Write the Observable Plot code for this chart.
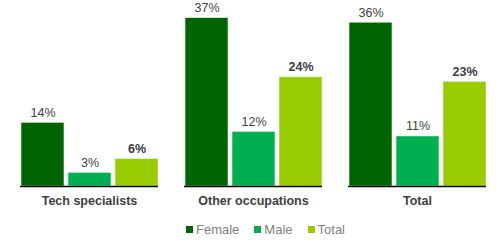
<!DOCTYPE html>
<html>
<head>
<meta charset="utf-8">
<script src="https://cdn.jsdelivr.net/npm/d3@7"></script>
<script src="https://cdn.jsdelivr.net/npm/@observablehq/plot@0.6"></script>
<style>
  html, body { margin: 0; padding: 0; background: #fff; }
  body { width: 500px; height: 244px; overflow: hidden; font-family: "Liberation Sans", Arial, sans-serif; }
  #legend { display: flex; justify-content: flex-start; height: 30px; align-items: center; font-size: 13px; color: #7f7f7f; padding-left: 186px; margin-top: 0px; }
  .item { display: flex; align-items: center; margin-right: 15px; }
  .sw { width: 7px; height: 7px; margin-right: 3px; }
</style>
</head>
<body>
<div id="chart"></div>
<div id="legend"></div>
<script>
const categories = ["Tech specialists", "Other occupations", "Total"];
const series = ["Female", "Male", "Total"];
const female = [14, 37, 36];
const male = [3, 12, 11];
const total = [6, 24, 23];
const colors = ["#006400", "#00b050", "#99cc00"];

const values = [female, male, total];
const data = [];
categories.forEach((c, i) => {
  series.forEach((s, j) => {
    data.push({group: c, series: s, value: values[j][i]});
  });
});
const normalData = data.filter(d => d.series !== "Total");
const boldData = data.filter(d => d.series === "Total");

const chart = Plot.plot({
  width: 500,
  height: 214,
  marginLeft: 6,
  marginRight: 0,
  marginTop: 4,
  marginBottom: 28,
  style: {fontFamily: "'Liberation Sans', Arial, sans-serif", background: "#fff"},
  fx: {domain: categories, paddingInner: 0.157, paddingOuter: 0.077, label: null, axis: null},
  x: {domain: series, paddingInner: 0.09, paddingOuter: 0, axis: null},
  y: {domain: [0, 40], axis: null},
  color: {domain: series, range: colors},
  marks: [
    Plot.barY(data, {fx: "group", x: "series", y: "value", fill: "series", stroke: "#e8f5e0", strokeWidth: 0.6}),
    Plot.text(normalData, {fx: "group", x: "series", y: "value", text: d => d.value + "%", dy: -10, fill: "#404040", fontSize: 12.5}),
    Plot.text(boldData, {fx: "group", x: "series", y: "value", text: d => d.value + "%", dy: -10, fill: "#404040", fontSize: 12.5, fontWeight: "bold"}),
    Plot.axisFx({anchor: "bottom", tickSize: 0, tickPadding: 10, fontSize: 12.5, fontWeight: "bold", fill: "#404040", label: null}),
    Plot.ruleY([0], {stroke: "#000", strokeWidth: 1.5})
  ]
});
document.getElementById("chart").appendChild(chart);

const legend = document.getElementById("legend");
series.forEach((s, j) => {
  const item = document.createElement("div");
  item.className = "item";
  const sw = document.createElement("span");
  sw.className = "sw";
  sw.style.background = colors[j];
  const t = document.createElement("span");
  t.textContent = s;
  item.appendChild(sw);
  item.appendChild(t);
  legend.appendChild(item);
});
</script>
</body>
</html>
